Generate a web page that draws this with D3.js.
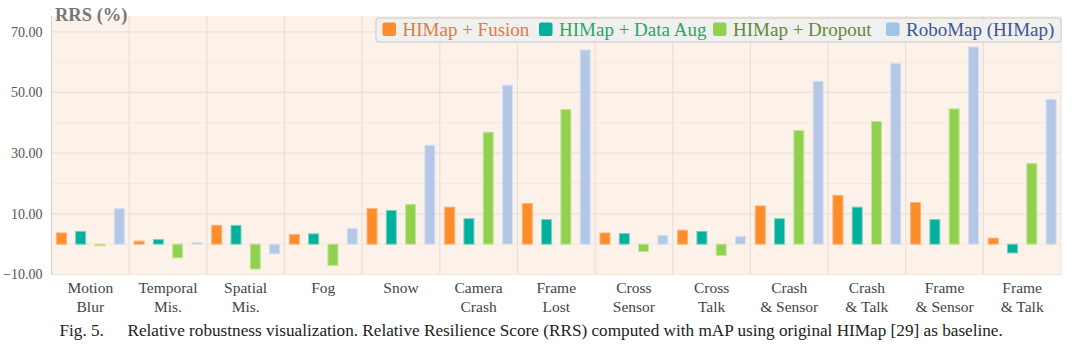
<!DOCTYPE html>
<html><head><meta charset="utf-8">
<script src="https://cdn.jsdelivr.net/npm/d3@7"></script>
<style>
body{margin:0;background:#fff;}
svg{display:block;}
</style></head>
<body><svg id="chart" width="1080" height="345"></svg>
<script>
const categories = [["Motion","Blur"],["Temporal","Mis."],["Spatial","Mis."],["Fog"],["Snow"],["Camera","Crash"],["Frame","Lost"],["Cross","Sensor"],["Cross","Talk"],["Crash","& Sensor"],["Crash","& Talk"],["Frame","& Sensor"],["Frame","& Talk"]];
const seriesNames = ["HIMap + Fusion","HIMap + Data Aug","HIMap + Dropout","RoboMap (HIMap)"];
const fusion  = [3.7, 1.0, 6.2, 3.2, 11.7, 12.2, 13.4, 3.7, 4.6, 12.6, 16.1, 13.7, 2.0];
const dataAug = [4.2, 1.5, 6.2, 3.4, 11.1, 8.4, 8.1, 3.5, 4.2, 8.4, 12.2, 8.1, -2.9];
const dropout = [-0.5, -4.5, -8.2, -7.0, 13.1, 36.9, 44.4, -2.4, -3.7, 37.5, 40.4, 44.6, 26.6];
const robomap = [11.7, 0.5, -3.2, 5.1, 32.6, 52.4, 64.0, 2.9, 2.6, 53.7, 59.6, 65.0, 47.7];
const yTicks = [-10, 10, 30, 50, 70];
const yMinor = [0, 20, 40, 60];

const FONT = "'Liberation Serif', 'DejaVu Serif', serif";
const seriesData = [fusion, dataAug, dropout, robomap];
const fills   = ["#fd8c2a", "#00b09c", "#92d050", "#b4c7e7"];
const strokes = ["#fdb27a", "#6fd3c4", "#c2e59a", "#d3e0f3"];
const textCols = ["#e8793a", "#24a866", "#5f8a38", "#3b5598"];

const svg = d3.select("#chart");
const L = 51.5, R = 1061, T = 16, B = 274.5;
const keys = categories.map(c => c.join(" "));
const x0 = d3.scaleBand().domain(keys).range([L, R]).padding(0);
const x1 = d3.scaleBand().domain(d3.range(4)).range([0, x0.bandwidth()]).paddingInner(0.43).paddingOuter(0.228);
const y = d3.scaleLinear().domain([-10, 75.2]).range([B, T]);

svg.append("rect").attr("x", L).attr("y", T).attr("width", R - L).attr("height", B - T).attr("fill", "#fdf2e9");
svg.append("g").selectAll("line").data(yMinor).join("line")
  .attr("x1", L).attr("x2", R).attr("y1", d => y(d)).attr("y2", d => y(d))
  .attr("stroke", "#f6e8de").attr("stroke-width", 1);
svg.append("g").selectAll("line").data(yTicks).join("line")
  .attr("x1", L).attr("x2", R).attr("y1", d => y(d)).attr("y2", d => y(d))
  .attr("stroke", "#ebe0d8").attr("stroke-width", 1.2);
svg.append("g").selectAll("line").data(keys.slice(1)).join("line")
  .attr("x1", d => x0(d)).attr("x2", d => x0(d)).attr("y1", T).attr("y2", B)
  .attr("stroke", "#e9dfd8").attr("stroke-width", 1.2);
svg.append("line").attr("x1", L).attr("x2", L).attr("y1", T).attr("y2", B).attr("stroke", "#d9d2cc").attr("stroke-width", 1.2);
svg.append("line").attr("x1", L).attr("x2", R).attr("y1", B).attr("y2", B).attr("stroke", "#ece4de").attr("stroke-width", 1);
svg.append("line").attr("x1", R).attr("x2", R).attr("y1", T).attr("y2", B).attr("stroke", "#ece4de").attr("stroke-width", 1);

const yAxis = d3.axisLeft(y).tickValues(yTicks).tickFormat(d3.format(".2f")).tickSize(0).tickPadding(9);
const ga = svg.append("g").attr("transform", `translate(${L},0)`).call(yAxis);
ga.select(".domain").remove();
ga.selectAll("text").attr("font-size", 14).attr("fill", "#555");

const groups = svg.append("g").selectAll("g").data(keys).join("g")
  .attr("transform", d => `translate(${x0(d)},0)`);
groups.selectAll("rect").data((d, i) => seriesData.map((s, j) => ({j, v: s[i]}))).join("rect")
  .attr("x", d => x1(d.j) + 0.5)
  .attr("width", x1.bandwidth() - 1)
  .attr("y", d => y(Math.max(0, d.v)))
  .attr("height", d => Math.abs(y(d.v) - y(0)))
  .attr("fill", d => fills[d.j])
  .attr("stroke", d => strokes[d.j]).attr("stroke-width", 1);

const xl = svg.append("g").selectAll("text").data(categories).join("text")
  .attr("x", (d, i) => x0(keys[i]) + x0.bandwidth() / 2)
  .attr("y", 292.5)
  .attr("text-anchor", "middle").attr("font-size", 15.5).attr("fill", "#444");
xl.selectAll("tspan").data(d => d).join("tspan")
  .attr("x", function() { return this.parentNode.getAttribute("x"); })
  .attr("dy", (d, i) => i === 0 ? 0 : 19)
  .text(d => d);

svg.append("text").attr("x", 55).attr("y", 20.5).attr("font-size", 18.5).attr("font-weight", "bold")
  .attr("fill", "#777").text("RRS (%)");

const lg = svg.append("g");
lg.append("rect").attr("x", 376).attr("y", 18).attr("width", 685).attr("height", 24).attr("rx", 2)
  .attr("fill", "#f0f0ef").attr("stroke", "#c9c9c9").attr("stroke-width", 1);
const legX = [382.5, 539, 713, 886];
seriesNames.forEach((n, j) => {
  lg.append("rect").attr("x", legX[j]).attr("y", 22.5).attr("width", 13.5).attr("height", 13.5).attr("rx", 2)
    .attr("fill", j === 3 ? "#9fc5e8" : fills[j]);
  lg.append("text").attr("x", legX[j] + 20).attr("y", 36).attr("font-size", 19)
    .attr("fill", textCols[j]).text(n);
});

const cap = svg.append("text").attr("y", 335.5).attr("font-size", 17.2).attr("fill", "#222");
cap.append("tspan").attr("x", 59.5).text("Fig. 5.");
cap.append("tspan").attr("x", 127.5).text("Relative robustness visualization. Relative Resilience Score (RRS) computed with mAP using original HIMap [29] as baseline.");

svg.selectAll("text").style("font-family", FONT);
</script>
</body></html>
